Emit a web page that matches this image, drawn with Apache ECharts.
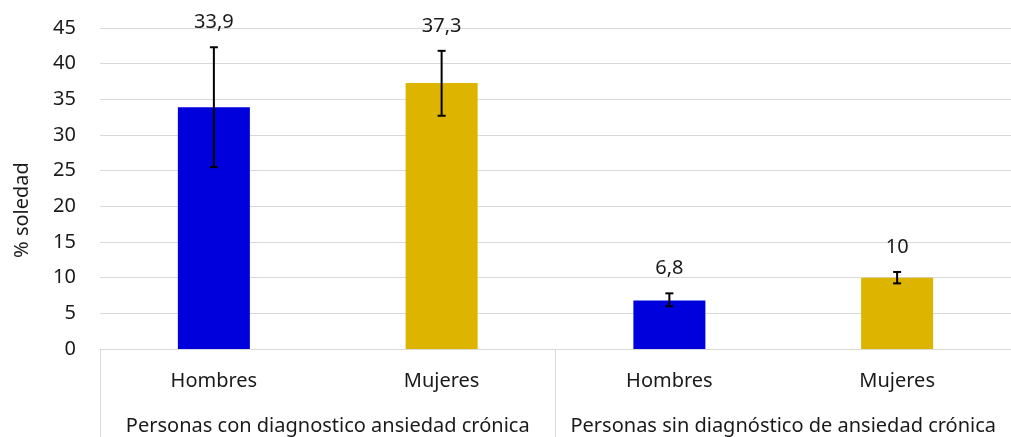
<!DOCTYPE html>
<html><head><meta charset="utf-8">
<script src="https://cdn.jsdelivr.net/npm/echarts@6/dist/echarts.min.js"></script>
<style>html,body{margin:0;padding:0;background:#fff}#c{width:1011px;height:437px}</style>
</head><body><div id="c"></div>
<script>
const categories = ['Hombres', 'Mujeres', 'Hombres', 'Mujeres'];
const groups = ['Personas con diagnostico ansiedad crónica', 'Personas sin diagnóstico de ansiedad crónica'];
const values = [33.9, 37.3, 6.8, 10];
const errLow = [25.5, 32.7, 6.0, 9.2];
const errHigh = [42.3, 41.8, 7.8, 10.8];
const colors = ['#0000DC', '#DDB400', '#0000DC', '#DDB400'];
const yTicks = [0, 45, 5];

const FONT = 'Noto Sans';
const FS = 20;
const TXT = '#1a1a1a';
const chart = echarts.init(document.getElementById('c'));
chart.setOption({
  animation: false,
  grid: { left: 100, right: 0, top: 28, bottom: 88 },
  xAxis: [
    { type: 'category', data: categories, position: 'bottom',
      axisLine: { lineStyle: { color: '#D9D9D9', width: 1 } },
      axisTick: { show: false },
      axisLabel: { interval: 0, fontFamily: FONT, fontSize: FS, color: TXT, margin: 22 } },
    { type: 'category', data: groups, position: 'bottom',
      axisLine: { show: false },
      axisTick: { show: true, interval: 0, length: 90, lineStyle: { color: '#D9D9D9' } },
      axisLabel: { interval: 0, fontFamily: FONT, fontSize: FS, color: TXT, margin: 67 } }
  ],
  yAxis: { type: 'value', min: yTicks[0], max: yTicks[1], interval: yTicks[2],
    axisLine: { show: false }, axisTick: { show: false },
    splitLine: { lineStyle: { color: '#D9D9D9' } },
    axisLabel: { fontFamily: FONT, fontSize: FS, color: TXT, margin: 24 } },
  graphic: [{ type: 'text', x: 22, y: 210, rotation: Math.PI / 2,
    style: { text: '% soledad', font: FS + 'px "Noto Sans"', fill: TXT, align: 'center', verticalAlign: 'middle' } }],
  series: [
    { type: 'bar', xAxisIndex: 0, barWidth: 72,
      data: values.map((v, i) => ({ value: v, itemStyle: { color: colors[i] } })) },
    { type: 'custom', xAxisIndex: 0, z: 5,
      data: values.map((v, i) => [i, errLow[i], errHigh[i], v]),
      renderItem: function (params, api) {
        const x = api.coord([api.value(0), 0])[0];
        const lo = api.coord([api.value(0), api.value(1)])[1];
        const hi = api.coord([api.value(0), api.value(2)])[1];
        const st = { stroke: '#000', lineWidth: 2 };
        const v = api.value(3);
        return { type: 'group', children: [
          { type: 'line', shape: { x1: x, y1: lo, x2: x, y2: hi }, style: st },
          { type: 'line', shape: { x1: x - 4, y1: lo, x2: x + 4, y2: lo }, style: st },
          { type: 'line', shape: { x1: x - 4, y1: hi, x2: x + 4, y2: hi }, style: st },
          { type: 'text', x: x, y: hi - 25, style: { text: String(v).replace('.', ','),
            font: FS + 'px "Noto Sans"', fill: TXT, align: 'center', verticalAlign: 'middle' } }
        ] };
      } }
  ]
});
</script></body></html>
